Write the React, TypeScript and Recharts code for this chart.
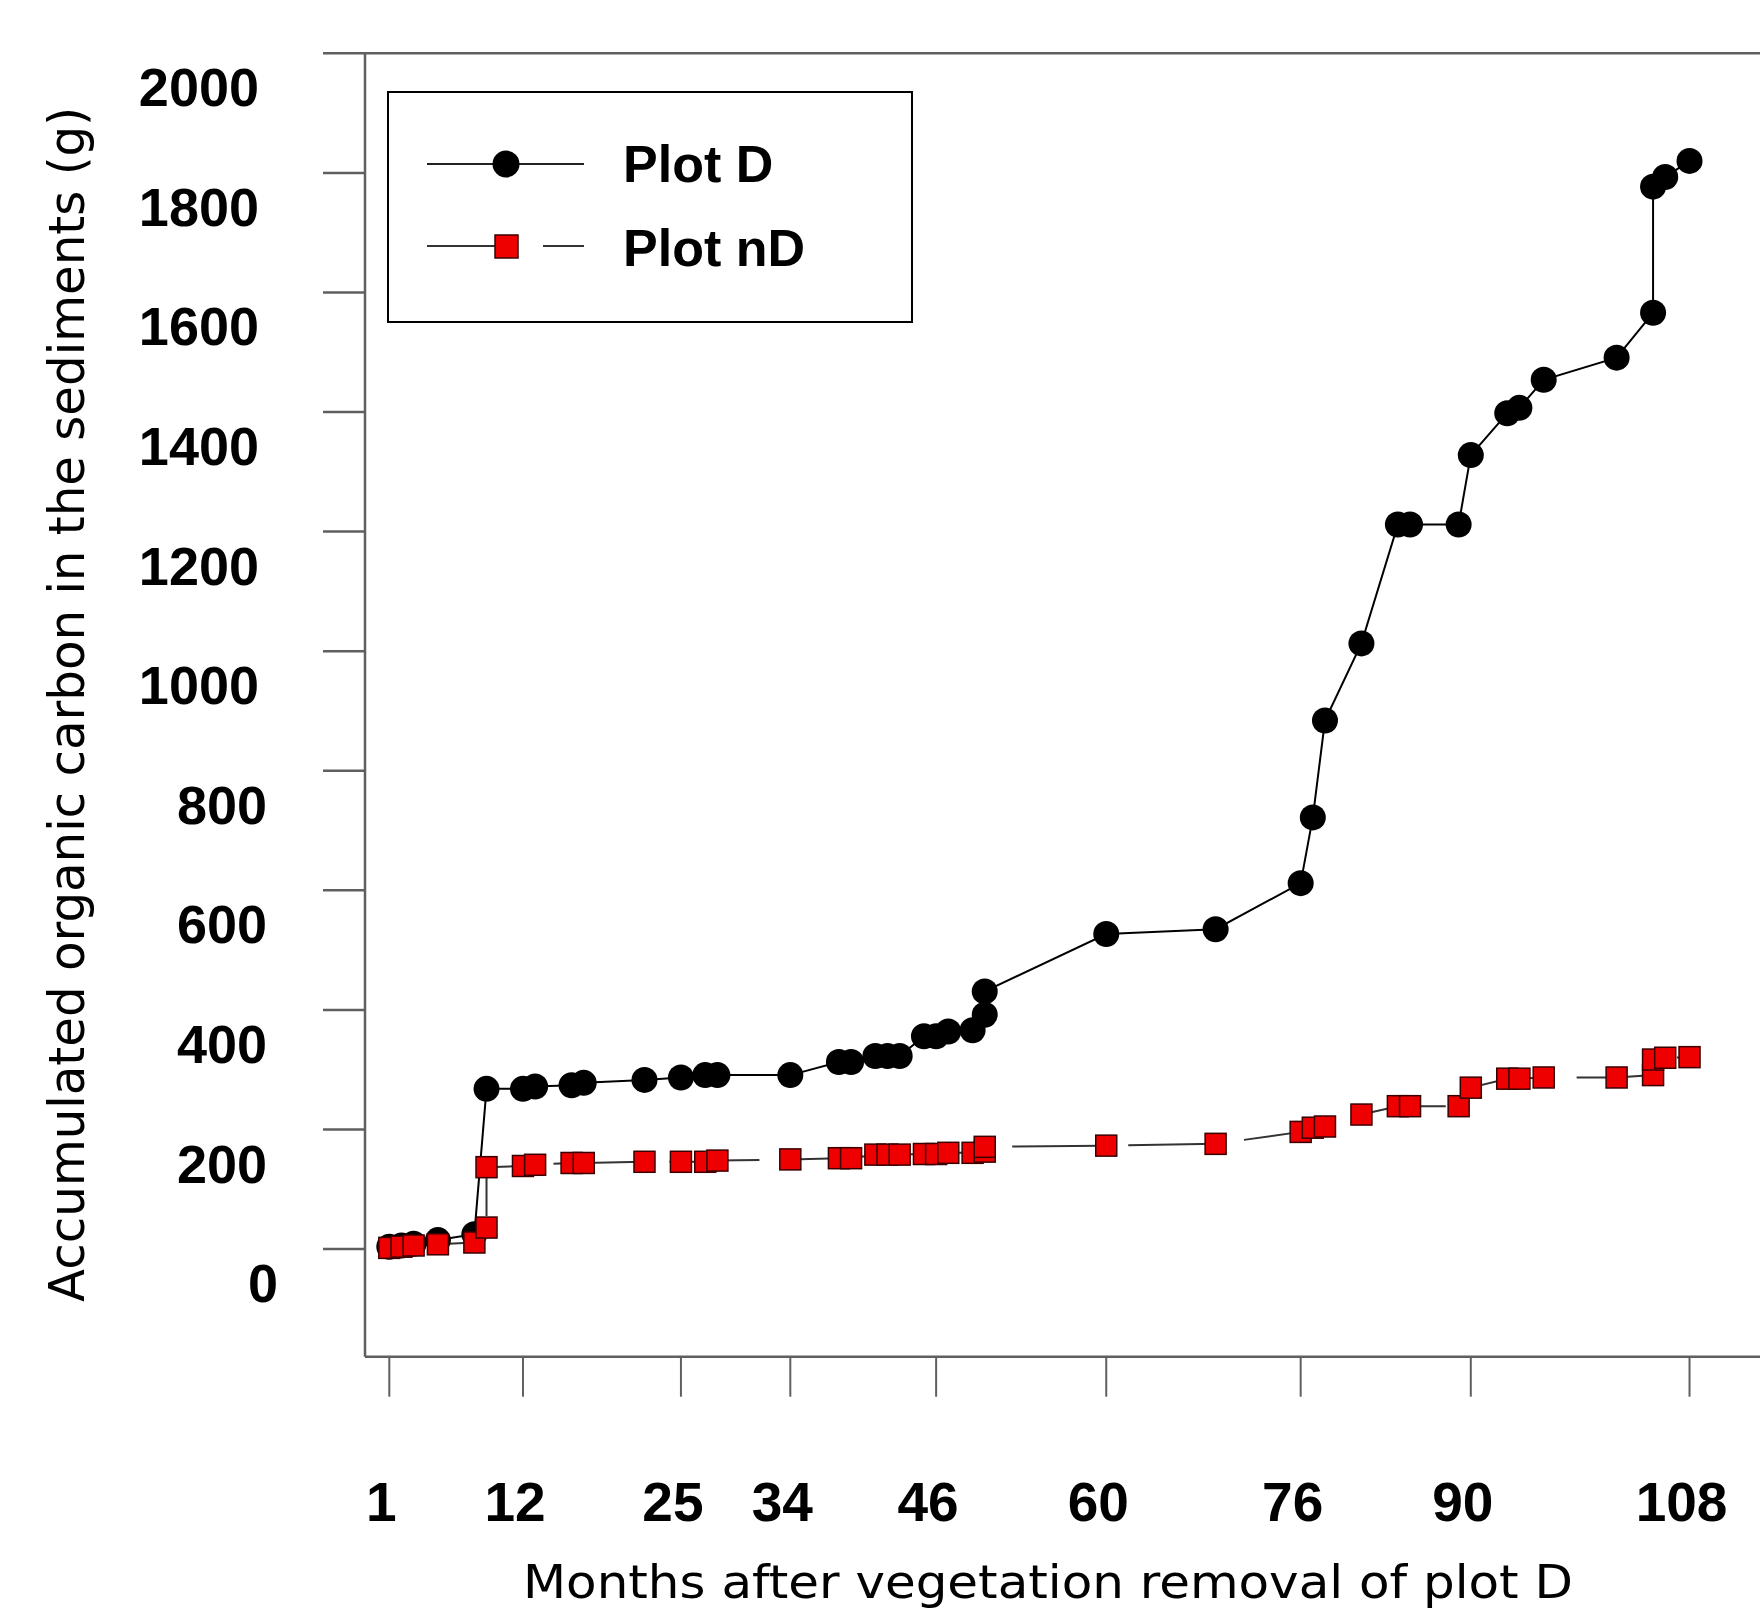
import React from 'react';
import { LineChart, Line, XAxis, YAxis, Legend, ReferenceLine } from 'recharts';

// ---- data ----
const monthsD = [1, 2, 3, 5, 8, 9, 12, 13, 16, 17, 22, 25, 27, 28, 34, 38, 39, 41, 42, 43, 45, 46, 47, 49, 50, 50, 60, 69, 76, 77, 78, 81, 84, 85, 89, 90, 93, 94, 96, 102, 105, 105, 106, 108];
const carbonD = [4, 6, 9, 15, 25, 268, 268, 272, 274, 278, 283, 287, 291, 291, 291, 313, 313, 323, 323, 323, 356, 356, 364, 366, 392, 431, 527, 535, 612, 722, 884, 1013, 1212, 1212, 1212, 1328, 1398, 1407, 1454, 1491, 1566, 1777, 1793, 1820];

const monthsND = [1, 2, 3, 5, 8, 9, 9, 12, 13, 16, 17, 22, 25, 27, 28, 34, 38, 39, 41, 42, 43, 45, 46, 47, 49, 50, 50, 60, 69, 76, 77, 78, 81, 84, 85, 89, 90, 93, 94, 96, 102, 105, 105, 106, 108];
const carbonND = [2, 4, 6, 8, 11, 36, 137, 139, 141, 144, 144, 146, 146, 146, 148, 150, 152, 152, 158, 158, 158, 159, 159, 161, 161, 163, 171, 173, 176, 196, 203, 205, 225, 239, 239, 239, 270, 285, 285, 287, 287, 291, 317, 320, 321];

const xTicks = [1, 12, 25, 34, 46, 60, 76, 90, 108];
const yTicks = [0, 200, 400, 600, 800, 1000, 1200, 1400, 1600, 1800, 2000];

const seriesNames = ['Plot D', 'Plot nD'];
const xTitle = 'Months after vegetation removal of plot D';
const yTitle = 'Accumulated organic carbon in the sediments (g)';

const dataD = monthsD.map((m, i) => ({ x: m, y: carbonD[i] }));
const dataND = monthsND.map((m, i) => ({ x: m, y: carbonND[i] }));

const AXIS = '#5f5f5f';
const RED = '#ee0000';
const TICKFONT = '"Liberation Sans", Arial, sans-serif';
const TITLEFONT = '"DejaVu Sans", sans-serif';

const CircleDot = (p: any) => {
  if (p.cx == null || p.cy == null) return <g key={p.index} />;
  return <circle key={p.index} cx={p.cx} cy={p.cy} r={13} fill="#000" />;
};
const SquareDot = (p: any) => {
  if (p.cx == null || p.cy == null) return <g key={p.index} />;
  return (
    <rect key={p.index} x={p.cx - 10.5} y={p.cy - 10.5} width={21} height={21}
      fill={RED} stroke="#3a0000" strokeWidth={1.5} />
  );
};

const YTick = (p: any) => {
  const s = String(p.payload.value);
  const right = s.length >= 4 ? 259 : s.length === 3 ? 267 : 278;
  return (
    <text x={right} y={p.y + 53} textAnchor="end" fontFamily={TICKFONT}
      fontWeight="bold" fontSize={54} fill="#000">{s}</text>
  );
};
const XTick = (p: any) => (
  <text x={p.x - 8} y={1521} textAnchor="middle" fontFamily={TICKFONT}
    fontWeight="bold" fontSize={55} fill="#000">{String(p.payload.value)}</text>
);

const XTitle = () => (
  <text x={523} y={1598} fontFamily={TITLEFONT} fontSize={47} fill="#000"
    textLength={1050} lengthAdjust="spacingAndGlyphs">{xTitle}</text>
);
const YTitle = () => (
  <text x={0} y={0} transform="translate(84,1302) rotate(-90)" fontFamily={TITLEFONT}
    fontSize={50} fill="#000" textLength={1195} lengthAdjust="spacingAndGlyphs">{yTitle}</text>
);

const LegendBox = () => (
  <svg width={526} height={233} style={{ display: 'block' }}>
    <rect x={1} y={1} width={524} height={230} fill="#fff" stroke="#000" strokeWidth={2} />
    <line x1={40} y1={73} x2={197} y2={73} stroke="#222" strokeWidth={2} />
    <circle cx={119} cy={73} r={13.5} fill="#000" />
    <text x={236} y={91} fontFamily={TICKFONT} fontWeight="bold" fontSize={52} fill="#000">{seriesNames[0]}</text>
    <line x1={40} y1={155} x2={197} y2={155} stroke="#333" strokeWidth={2} strokeDasharray="90 26" />
    <rect x={108} y={144} width={23} height={23} fill={RED} stroke="#3a0000" strokeWidth={1.5} />
    <text x={236} y={175} fontFamily={TICKFONT} fontWeight="bold" fontSize={52} fill="#000">{seriesNames[1]}</text>
  </svg>
);

export default function App() {
  return (
    <div style={{ position: 'fixed', left: 0, top: 0, width: 1760, height: 1612, overflow: 'hidden', background: '#fff' }}>
      <LineChart width={1760} height={1612} margin={{ top: 53.3, right: 0, left: 265, bottom: 155.3 }}>
        <XAxis dataKey="x" type="number" domain={[-1, 113.8]} allowDataOverflow ticks={xTicks} interval={0}
          height={100} tickSize={40} tick={XTick}
          axisLine={{ stroke: AXIS, strokeWidth: 2.5 }} tickLine={{ stroke: AXIS, strokeWidth: 2 }}
          label={XTitle} />
        <YAxis type="number" domain={[-180, 2000]} allowDataOverflow ticks={yTicks} interval={0}
          width={100} tickSize={42} tick={YTick}
          axisLine={{ stroke: AXIS, strokeWidth: 2.5 }} tickLine={{ stroke: AXIS, strokeWidth: 2.5 }}
          label={YTitle} />
        <ReferenceLine y={2000} stroke={AXIS} strokeWidth={2.5} />
        <Legend layout="horizontal" verticalAlign="middle" align="center"
          wrapperStyle={{ left: 387, top: 91, width: 526, height: 233 }} content={LegendBox} />
        <Line data={dataD} dataKey="y" name={seriesNames[0]} type="linear" stroke="#000" strokeWidth={2}
          dot={CircleDot} activeDot={false} isAnimationActive={false} />
        <Line data={dataND} dataKey="y" name={seriesNames[1]} type="linear" stroke="#333" strokeWidth={2}
          strokeDasharray="90 26" dot={SquareDot} activeDot={false} isAnimationActive={false} />
      </LineChart>
    </div>
  );
}
